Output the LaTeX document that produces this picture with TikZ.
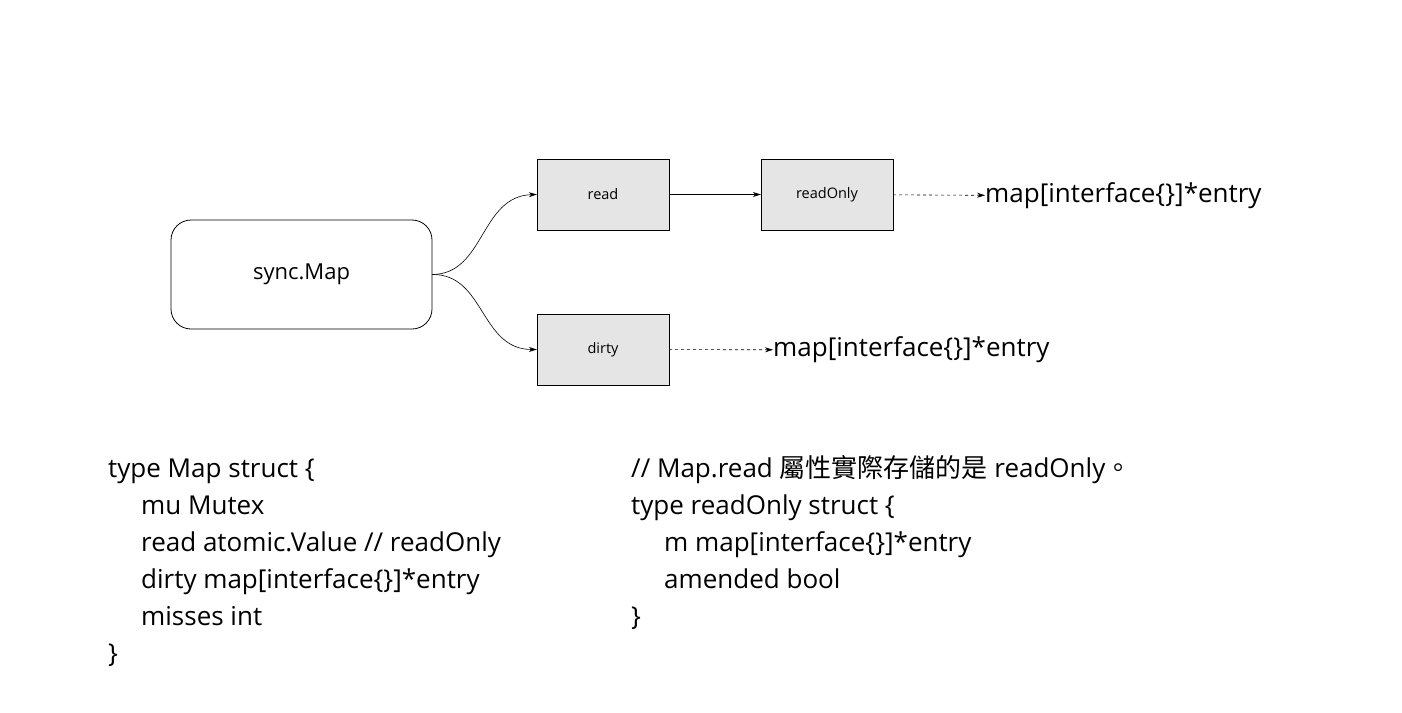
\documentclass[tikz,border=0pt]{standalone}
\usepackage{fontspec}
\setmainfont{Open Sans}
\newfontfamily\cjk{Noto Sans CJK TC}
\usetikzlibrary{arrows.meta}
\begin{document}
\begin{tikzpicture}[x=1pt,y=-1pt,
  gbox/.style={draw,fill=black!10,minimum width=132pt,minimum height=71pt,font=\fontsize{14.5}{16}\selectfont,inner sep=0},
  big/.style={font=\fontsize{26}{30}\selectfont,inner sep=0},
  code/.style={font=\fontsize{26}{30}\selectfont,inner sep=0,anchor=base west},
  arr/.style={-{Stealth[length=8pt,width=5pt]},line width=0.6pt}]
\useasboundingbox (0,0) rectangle (1402,712);
\node[draw,rounded corners=20pt,minimum width=261pt,minimum height=109pt,line width=0.8pt,font=\fontsize{22}{26}\selectfont] (sm) at (301.5,274.5) {sync.Map};
\node[gbox] (rd) at (603,194.5) {read};
\node[gbox] (ro) at (827,194.5) {readOnly};
\node[gbox] (dt) at (603,349.5) {dirty};
\node[big,anchor=west] (l1) at (985,196) {map[interface\{\}]*entry};
\node[big,anchor=west] (l2) at (773,350) {map[interface\{\}]*entry};
\draw[arr] (sm.east) .. controls (485,274) and (480,196) .. (rd.west);
\draw[arr] (sm.east) .. controls (485,274) and (480,349.5) .. (dt.west);
\draw[arr] (rd) -- (ro);
\draw[arr,dashed] (ro) -- (l1);
\draw[arr,dashed] (dt) -- (l2);
\node[code] (a1) at (108,477) {type Map struct \{};
\node[code] (a2) at (141,514) {mu Mutex};
\node[code] (a3) at (141,551) {read atomic.Value // readOnly};
\node[code] (a4) at (141,588) {dirty map[interface\{\}]*entry};
\node[code] (a5) at (141,625) {misses int};
\node[code] (a6) at (108,662) {\}};
\node[code] (b1) at (631,477) {// Map.read {\cjk 屬性實際存儲的是} readOnly{\cjk 。}};
\node[code] (b2) at (631,514) {type readOnly struct \{};
\node[code] (b3) at (664,551) {m map[interface\{\}]*entry};
\node[code] (b4) at (664,588) {amended bool};
\node[code] (b5) at (631,625) {\}};
\end{tikzpicture}
\end{document}
